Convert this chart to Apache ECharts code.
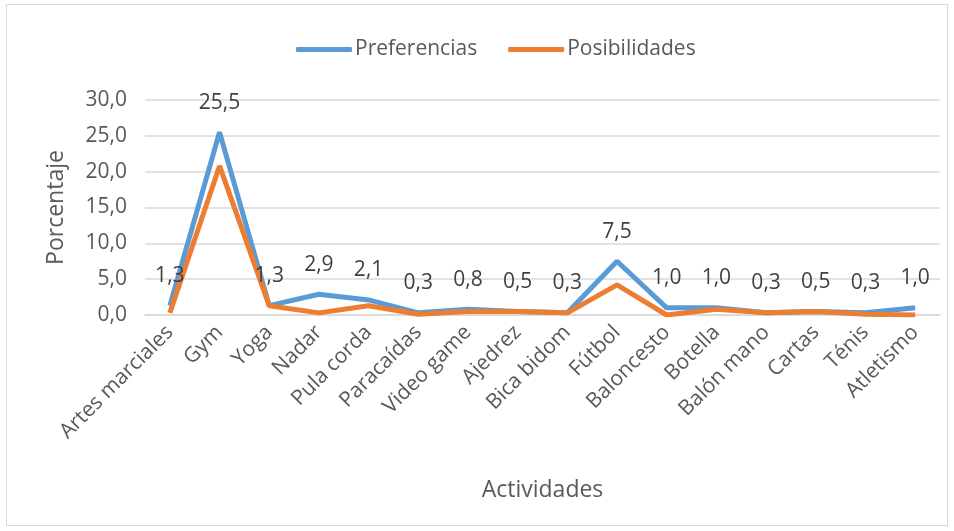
<!DOCTYPE html>
<html>
<head>
<meta charset="utf-8">
<script src="https://cdn.jsdelivr.net/npm/echarts@6/dist/echarts.min.js"></script>
<style>
  html, body { margin: 0; padding: 0; background: #fff; }
  #box { width: 954px; height: 531px; }
  #frame { position: absolute; left: 6px; top: 4px; width: 940px; height: 520px; border: 1px solid #d9d9d9; pointer-events: none; }
</style>
</head>
<body>
<div id="box"></div>
<div id="frame"></div>
<script>
// categorías
var actividades = ['Artes marciales', 'Gym', 'Yoga', 'Nadar', 'Pula corda', 'Paracaídas', 'Video game', 'Ajedrez', 'Bica bidom', 'Fútbol', 'Baloncesto', 'Botella', 'Balón mano', 'Cartas', 'Ténis', 'Atletismo'];
// valores
var preferencias = [1.3, 25.5, 1.3, 2.9, 2.1, 0.3, 0.8, 0.5, 0.3, 7.5, 1.0, 1.0, 0.3, 0.5, 0.3, 1.0];
var posibilidades = [0.3, 20.8, 1.3, 0.3, 1.3, 0.1, 0.5, 0.5, 0.3, 4.2, 0.0, 0.8, 0.3, 0.5, 0.1, 0.0];

var fuente = '"Open Sans", "Noto Sans", sans-serif';
function coma(v) { return Number(v).toFixed(1).replace('.', ','); }

var option = {
  animation: false,
  textStyle: { fontFamily: fuente },
  legend: {
    top: 34,
    left: 291,
    itemWidth: 56,
    itemHeight: 5,
    itemGap: 31,
    icon: 'roundRect',
    textStyle: { fontSize: 21, color: '#595959', fontFamily: fuente, padding: [0, 0, 0, -2] },
    data: [
      { name: 'Preferencias', itemStyle: { color: '#5B9BD5', opacity: 1 } },
      { name: 'Posibilidades', itemStyle: { color: '#ED7D31', opacity: 1 } }
    ]
  },
  grid: { left: 145, right: 14, top: 100, bottom: 216 },
  xAxis: {
    type: 'category',
    data: actividades,
    boundaryGap: true,
    name: 'Actividades',
    nameLocation: 'middle',
    nameGap: 164,
    nameTextStyle: { fontSize: 23, color: '#595959' },
    axisLine: { lineStyle: { color: '#d9d9d9', width: 1.5 } },
    axisTick: { show: false },
    axisLabel: { rotate: 45, interval: 0, fontSize: 21, color: '#595959', margin: 14 }
  },
  yAxis: {
    type: 'value',
    min: 0,
    max: 30,
    interval: 5,
    name: 'Porcentaje',
    nameLocation: 'middle',
    nameGap: 77,
    nameTextStyle: { fontSize: 23, color: '#595959' },
    axisLine: { show: false },
    axisTick: { show: false },
    axisLabel: { fontSize: 21, color: '#595959', margin: 18, formatter: coma },
    splitLine: { lineStyle: { color: '#d9d9d9', width: 1.5 } }
  },
  series: [
    {
      name: 'Preferencias',
      type: 'line',
      data: preferencias,
      showSymbol: true,
      symbol: 'circle',
      symbolSize: 0.1,
      lineStyle: { color: '#5B9BD5', width: 5 },
      itemStyle: { color: '#5B9BD5' },
      label: {
        show: true,
        position: 'top',
        distance: 19,
        fontSize: 21,
        color: '#404040',
        formatter: function (p) { return coma(p.value); }
      }
    },
    {
      name: 'Posibilidades',
      type: 'line',
      data: posibilidades,
      showSymbol: false,
      symbol: 'none',
      lineStyle: { color: '#ED7D31', width: 5 },
      itemStyle: { color: '#ED7D31' }
    }
  ]
};

var myChart = echarts.init(document.getElementById('box'));
myChart.setOption(option);
</script>
</body>
</html>
